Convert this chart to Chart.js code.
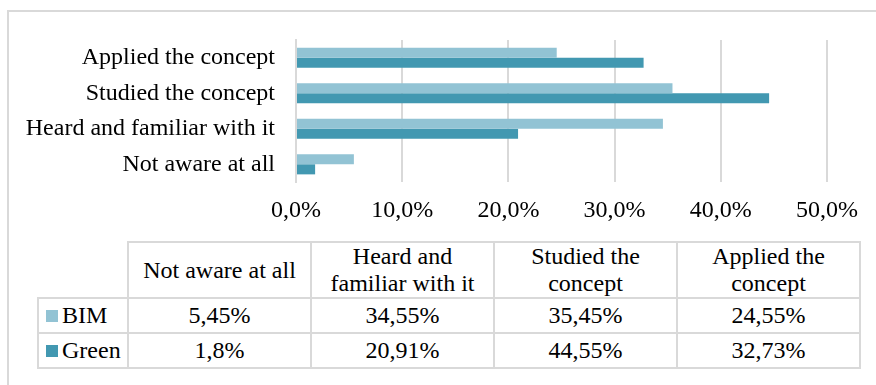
<!DOCTYPE html>
<html>
<head>
<meta charset="utf-8">
<script src="https://cdn.jsdelivr.net/npm/chart.js@4.4.1/dist/chart.umd.min.js"></script>
<style>
  html, body { margin: 0; padding: 0; background: #fff; }
  body {
    width: 876px; height: 385px; position: relative; overflow: hidden;
    font-family: "Liberation Serif", "Times New Roman", serif; color: #000;
  }
  #frame {
    position: absolute; left: 7px; top: 10px; width: 1000px; height: 500px;
    border-left: 2px solid #d9d9d9; border-top: 2px solid #d9d9d9;
  }
  #chart { position: absolute; left: 0; top: 0; }
  #dataTable {
    position: absolute; left: 37px; top: 241px; width: 822px;
    border-collapse: collapse; table-layout: fixed; font-size: 24px;
  }
  #dataTable td { border: 2px solid #d9d9d9; text-align: center; padding: 0; line-height: 27px; }
  #dataTable td.corner { border-top: none; border-left: none; }
  #dataTable td.key { text-align: left; padding-left: 7px; white-space: nowrap; }
  #dataTable .swatch { display: inline-block; width: 12px; height: 12px; margin-right: 4px; vertical-align: 1px; }
</style>
</head>
<body>
<div id="frame"></div>
<canvas id="chart" width="876" height="230"></canvas>
<table id="dataTable"></table>
<script>
// Survey categories in table order (bottom to top in the bar chart)
const categories = ['Not aware at all', 'Heard and familiar with it', 'Studied the concept', 'Applied the concept'];
const headerLines = [['Not aware at all'], ['Heard and', 'familiar with it'], ['Studied the', 'concept'], ['Applied the', 'concept']];
const seriesNames = ['BIM', 'Green'];
const bimValues = [5.45, 34.55, 35.45, 24.55];
const greenValues = [1.8, 20.91, 44.55, 32.73];
const seriesColors = ['#92c3d4', '#4298b1'];
const axisMin = 0;
const axisMax = 50;
const axisStep = 10;

const labelFont = { family: '"Liberation Serif", "Times New Roman", serif', size: 24 };
const gridColor = '#d9d9d9';
const fmt = v => String(v).replace('.', ',') + '%';

new Chart(document.getElementById('chart'), {
  type: 'bar',
  data: {
    labels: categories,
    datasets: [
      { label: seriesNames[0], data: bimValues, backgroundColor: seriesColors[0], borderWidth: 0 },
      { label: seriesNames[1], data: greenValues, backgroundColor: seriesColors[1], borderWidth: 0 }
    ]
  },
  options: {
    indexAxis: 'y',
    responsive: false,
    animation: false,
    devicePixelRatio: 1,
    categoryPercentage: 0.57,
    barPercentage: 1,
    layout: { padding: { top: 40, right: 49, bottom: 0, left: 0 } },
    plugins: { legend: { display: false }, tooltip: { enabled: false } },
    scales: {
      x: {
        min: axisMin, max: axisMax,
        ticks: {
          stepSize: axisStep, padding: 14, color: '#000', font: labelFont,
          callback: v => v.toFixed(1).replace('.', ',') + '%'
        },
        grid: { color: gridColor, lineWidth: 2, drawTicks: false },
        border: { display: false },
        afterFit: s => { s.height = 48; }
      },
      y: {
        reverse: true,
        ticks: { padding: 21, color: '#000', font: labelFont },
        grid: { display: false, drawTicks: false },
        border: { color: gridColor, width: 2 },
        afterFit: s => { s.width = 296; }
      }
    }
  }
});

// Data table below the chart, built from the same arrays
const table = document.getElementById('dataTable');
const colgroup = document.createElement('colgroup');
[90, 183, 183, 183, 183].forEach(w => {
  const c = document.createElement('col');
  c.style.width = w + 'px';
  colgroup.appendChild(c);
});
table.appendChild(colgroup);

const head = document.createElement('tr');
head.style.height = '55px';
const corner = document.createElement('td');
corner.className = 'corner';
head.appendChild(corner);
headerLines.forEach(lines => {
  const td = document.createElement('td');
  td.innerHTML = lines.join('<br>');
  head.appendChild(td);
});
table.appendChild(head);

[bimValues, greenValues].forEach((vals, i) => {
  const tr = document.createElement('tr');
  tr.style.height = '35px';
  const key = document.createElement('td');
  key.className = 'key';
  const sw = document.createElement('span');
  sw.className = 'swatch';
  sw.style.background = seriesColors[i];
  key.appendChild(sw);
  key.appendChild(document.createTextNode(seriesNames[i]));
  tr.appendChild(key);
  vals.forEach(v => {
    const td = document.createElement('td');
    td.textContent = fmt(v);
    tr.appendChild(td);
  });
  table.appendChild(tr);
});
</script>
</body>
</html>
